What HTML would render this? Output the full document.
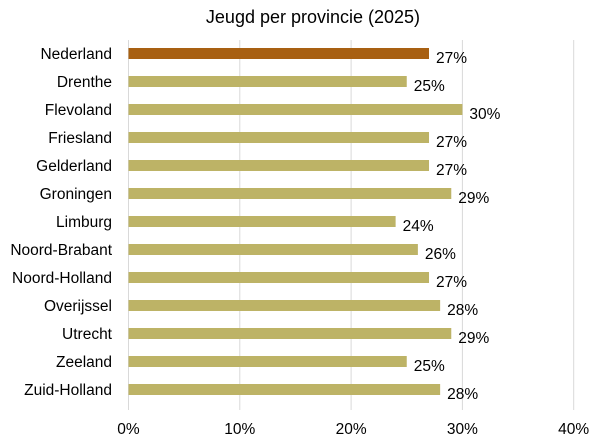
<!DOCTYPE html>
<html><head><meta charset="utf-8"><style>
html,body{margin:0;padding:0;background:#fff;}
svg text{font-family:"Liberation Sans",sans-serif;fill:#000;}
</style></head><body>
<svg id="chart" width="600" height="443" viewBox="0 0 600 443" xmlns="http://www.w3.org/2000/svg">
<rect width="600" height="443" fill="#fff"/>
<text x="313" y="23" font-size="18" text-anchor="middle">Jeugd per provincie (2025)</text>
<g id="grid"></g><g id="bars"></g><g id="labels"></g><g id="ticks"></g>
</svg>
<script>
const categories=["Nederland","Drenthe","Flevoland","Friesland","Gelderland","Groningen","Limburg","Noord-Brabant","Noord-Holland","Overijssel","Utrecht","Zeeland","Zuid-Holland"];
const values=[27,25,30,27,27,29,24,26,27,28,29,25,28];
const ticks=[0,10,20,30,40];
const tickLabels=["0%","10%","20%","30%","40%"];
const NS="http://www.w3.org/2000/svg";
const x0=128.5,pxPer=11.13,y0=53.5,step=28,bh=11;
const xs=v=>x0+v*pxPer, ys=i=>y0+i*step;
function mk(t,a,p){const e=document.createElementNS(NS,t);for(const k in a)e.setAttribute(k,a[k]);document.getElementById(p).appendChild(e);return e;}
ticks.forEach((t,i)=>{
 const l=mk('line',{x1:xs(t),x2:xs(t),y1:40,y2:410,stroke:'#d9d9d9','stroke-width':1},'grid');
 
 
 const tx=mk('text',{x:xs(t),y:434,'font-size':15.5,'text-anchor':'middle'},'ticks');
 tx.textContent=tickLabels[i];
 
 
});
categories.forEach((c,i)=>{
 const r=mk('rect',{x:x0,y:ys(i)-bh/2,width:xs(values[i])-x0,height:bh,fill:i===0?'#A86012':'#BDB366'},'bars');
 
 
 const cl=mk('text',{x:112,y:ys(i)+5.5,'font-size':15.5,'text-anchor':'end'},'labels');
 cl.textContent=c;
 
 
 const vl=mk('text',{x:xs(values[i])+7,y:ys(i)+9.5,'font-size':15.5},'labels');
 vl.textContent=values[i]+'%';
 
 
});
</script>
</body></html>
